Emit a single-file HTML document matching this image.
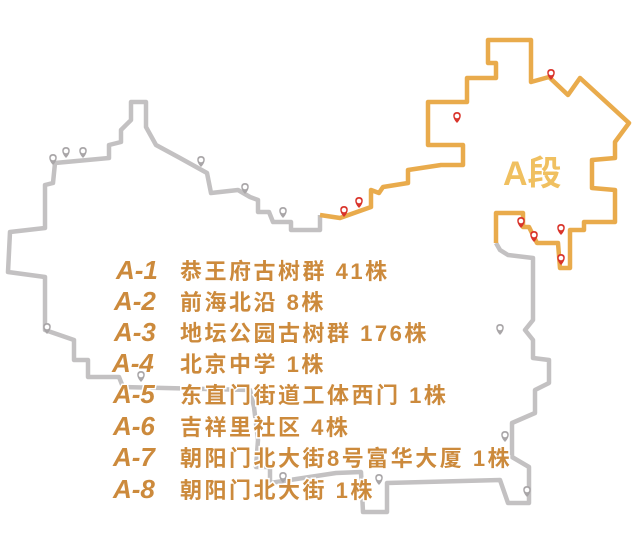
<!DOCTYPE html>
<html><head><meta charset="utf-8"><style>
body{margin:0;background:#fff;}
svg{display:block}
.t{font-family:"Liberation Sans","Noto Sans CJK SC",sans-serif;font-weight:bold;font-size:22px;letter-spacing:2.5px;fill:#cc8a3c;stroke:#fff;stroke-width:3px;paint-order:stroke;}
.l{font-style:italic;font-size:26px;letter-spacing:0;}
</style></head><body>
<svg width="640" height="554" viewBox="0 0 640 554" xmlns="http://www.w3.org/2000/svg">
<defs>
<g id="pr"><path d="M0,0 C-5,-5 -5,-11 0,-11 C5,-11 5,-5 0,0Z" fill="#d9342b"/><circle cx="0" cy="-7" r="2.3" fill="#fff"/></g>
<g id="pg"><path d="M0,0 C-5,-5 -5,-11 0,-11 C5,-11 5,-5 0,0Z" fill="#a9a6a8"/><circle cx="0" cy="-7" r="2.3" fill="#fff"/></g>
</defs>
<polyline fill="none" stroke="#c3c1c2" stroke-width="4.5" stroke-linejoin="round" points="320,215 320,230 291,230 291,222 273,222 269,212 258,212 258,200 250,197 238,190 211,193 207,173 180,158 156,145 146,127 146,102 131,102 131,120 121,130 121,142 109,145 109,158 55,163 53,183 45,185 45,228 10,232 8,272 45,277 45,330 74,340 74,360 88,360 88,377 119,377 123,387 250,390 254,407 258,440 256,467 270,467 270,483 336,473 361,472 363,512 387,512 387,483 500,480 508,503 529,503 529,467 512,457 512,423 535,413 535,390 549,383 549,360 533,358 533,340 525,330 533,320 533,258 508,255 500,250 496,243"/>
<polyline fill="none" stroke="#e9ab4c" stroke-width="4.5" stroke-linejoin="round" points="320,215 340,218 371,207 371,190 379,193 383,187 408,183 408,170 441,165 463,165 463,145 428,145 428,102 467,102 467,78 496,78 496,63 488,63 488,40 531,40 531,82 549,77 568,95 580,78 629,123 615,142 615,158 592,160 592,188 615,190 615,222 584,222 584,230 570,230 570,268 560,268 558,243 537,243 529,227 523,227 523,213 496,213 496,243"/>
<g>
<use href="#pr" x="551" y="80"/><use href="#pr" x="457" y="123"/><use href="#pr" x="344" y="217"/><use href="#pr" x="359" y="208"/>
<use href="#pr" x="521" y="228"/><use href="#pr" x="534" y="242"/><use href="#pr" x="561" y="235"/><use href="#pr" x="561" y="265"/>
<use href="#pg" x="53" y="165"/><use href="#pg" x="66" y="158"/><use href="#pg" x="83" y="158"/><use href="#pg" x="201" y="167"/>
<use href="#pg" x="245" y="194"/><use href="#pg" x="283" y="218"/><use href="#pg" x="47" y="334"/><use href="#pg" x="500" y="335"/>
<use href="#pg" x="141" y="382"/><use href="#pg" x="505" y="442"/><use href="#pg" x="527" y="497"/><use href="#pg" x="283" y="483"/><use href="#pg" x="379" y="485"/>
</g>
<text x="503" y="185" font-family="Liberation Sans,'Noto Sans CJK SC',sans-serif" font-weight="bold" font-size="34" fill="#f0c060">A段</text>
<g class="t">
<text x="116" y="279"><tspan class="l">A-1</tspan><tspan x="180">恭王府古树群 41株</tspan></text>
<text x="114" y="310"><tspan class="l">A-2</tspan><tspan x="180">前海北沿  8株</tspan></text>
<text x="114" y="341"><tspan class="l">A-3</tspan><tspan x="180">地坛公园古树群 176株</tspan></text>
<text x="112" y="372"><tspan class="l">A-4</tspan><tspan x="180">北京中学  1株</tspan></text>
<text x="113" y="403"><tspan class="l">A-5</tspan><tspan x="180">东直门街道工体西门  1株</tspan></text>
<text x="113" y="435"><tspan class="l">A-6</tspan><tspan x="180">吉祥里社区  4株</tspan></text>
<text x="113" y="466"><tspan class="l">A-7</tspan><tspan x="180">朝阳门北大街8号富华大厦 1株</tspan></text>
<text x="113" y="498"><tspan class="l">A-8</tspan><tspan x="180">朝阳门北大街  1株</tspan></text>
</g>
</svg>
</body></html>
